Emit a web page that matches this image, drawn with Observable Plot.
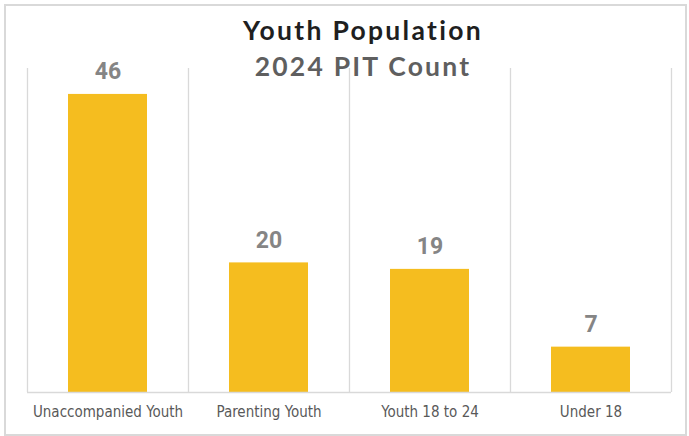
<!DOCTYPE html>
<html>
<head>
<meta charset="utf-8">
<script src="https://cdn.jsdelivr.net/npm/d3@7"></script>
<script src="https://cdn.jsdelivr.net/npm/@observablehq/plot@0.6"></script>
<style>
  html, body { margin: 0; padding: 0; background: #fff; }
  #wrap { position: relative; width: 689px; height: 436px; overflow: hidden; }
  #frame { position: absolute; left: 4px; top: 4px; width: 683px; height: 432px; border: 2px solid #d9d9d9; box-sizing: border-box; }
  .title { position: absolute; left: 0; width: 726px; text-align: center; font-family: Lato, sans-serif; font-weight: 700; white-space: nowrap; }
  #t1 { top: 14px; font-size: 26.5px; color: #1f1f1f; letter-spacing: 2.3px; }
  #t2 { top: 50px; font-size: 26.5px; color: #5f5f5f; letter-spacing: 2.2px; }
  #chart { position: absolute; left: 0; top: 0; }
</style>
</head>
<body>
<div id="wrap">
  <div id="frame"></div>
  <div id="chart"></div>
  <div class="title" id="t1">Youth Population</div>
  <div class="title" id="t2">2024 PIT Count</div>
</div>
<script>
const categories = ["Unaccompanied Youth", "Parenting Youth", "Youth 18 to 24", "Under 18"];
const values = [46, 20, 19, 7];
const data = categories.map((c, i) => ({category: c, value: values[i]}));

const chart = Plot.plot({
  width: 689,
  height: 436,
  marginTop: 68,
  marginBottom: 44,
  marginLeft: 27,
  marginRight: 18,
  x: {domain: categories, padding: 0, label: null},
  y: {domain: [0, 50], axis: null},
  style: {background: "transparent"},
  marks: [
    Plot.ruleX(categories, {x: d => d, dx: -80.5, y1: 0, y2: 50, stroke: "#d9d9d9", strokeWidth: 1.3}),
    Plot.ruleX([categories[categories.length - 1]], {x: d => d, dx: 80.5, y1: 0, y2: 50, stroke: "#d9d9d9", strokeWidth: 1.3}),
    Plot.barY(data, {x: "category", y: "value", fill: "#f5bd1f", insetLeft: 41, insetRight: 41}),
    Plot.ruleY([0], {stroke: "#d9d9d9", strokeWidth: 1.5}),
    Plot.text(data, {x: "category", y: "value", text: d => String(d.value), lineAnchor: "bottom", dy: -15, fill: "#858585", fontSize: 23, fontWeight: 700, fontFamily: "Roboto, sans-serif"}),
    Plot.axisX({tickSize: 0, tickPadding: 14, fontSize: 15, fontFamily: "'Liberation Sans Narrow', 'DejaVu Sans Condensed', sans-serif", color: "#595959", label: null})
  ]
});
document.getElementById("chart").appendChild(chart);
</script>
</body>
</html>
